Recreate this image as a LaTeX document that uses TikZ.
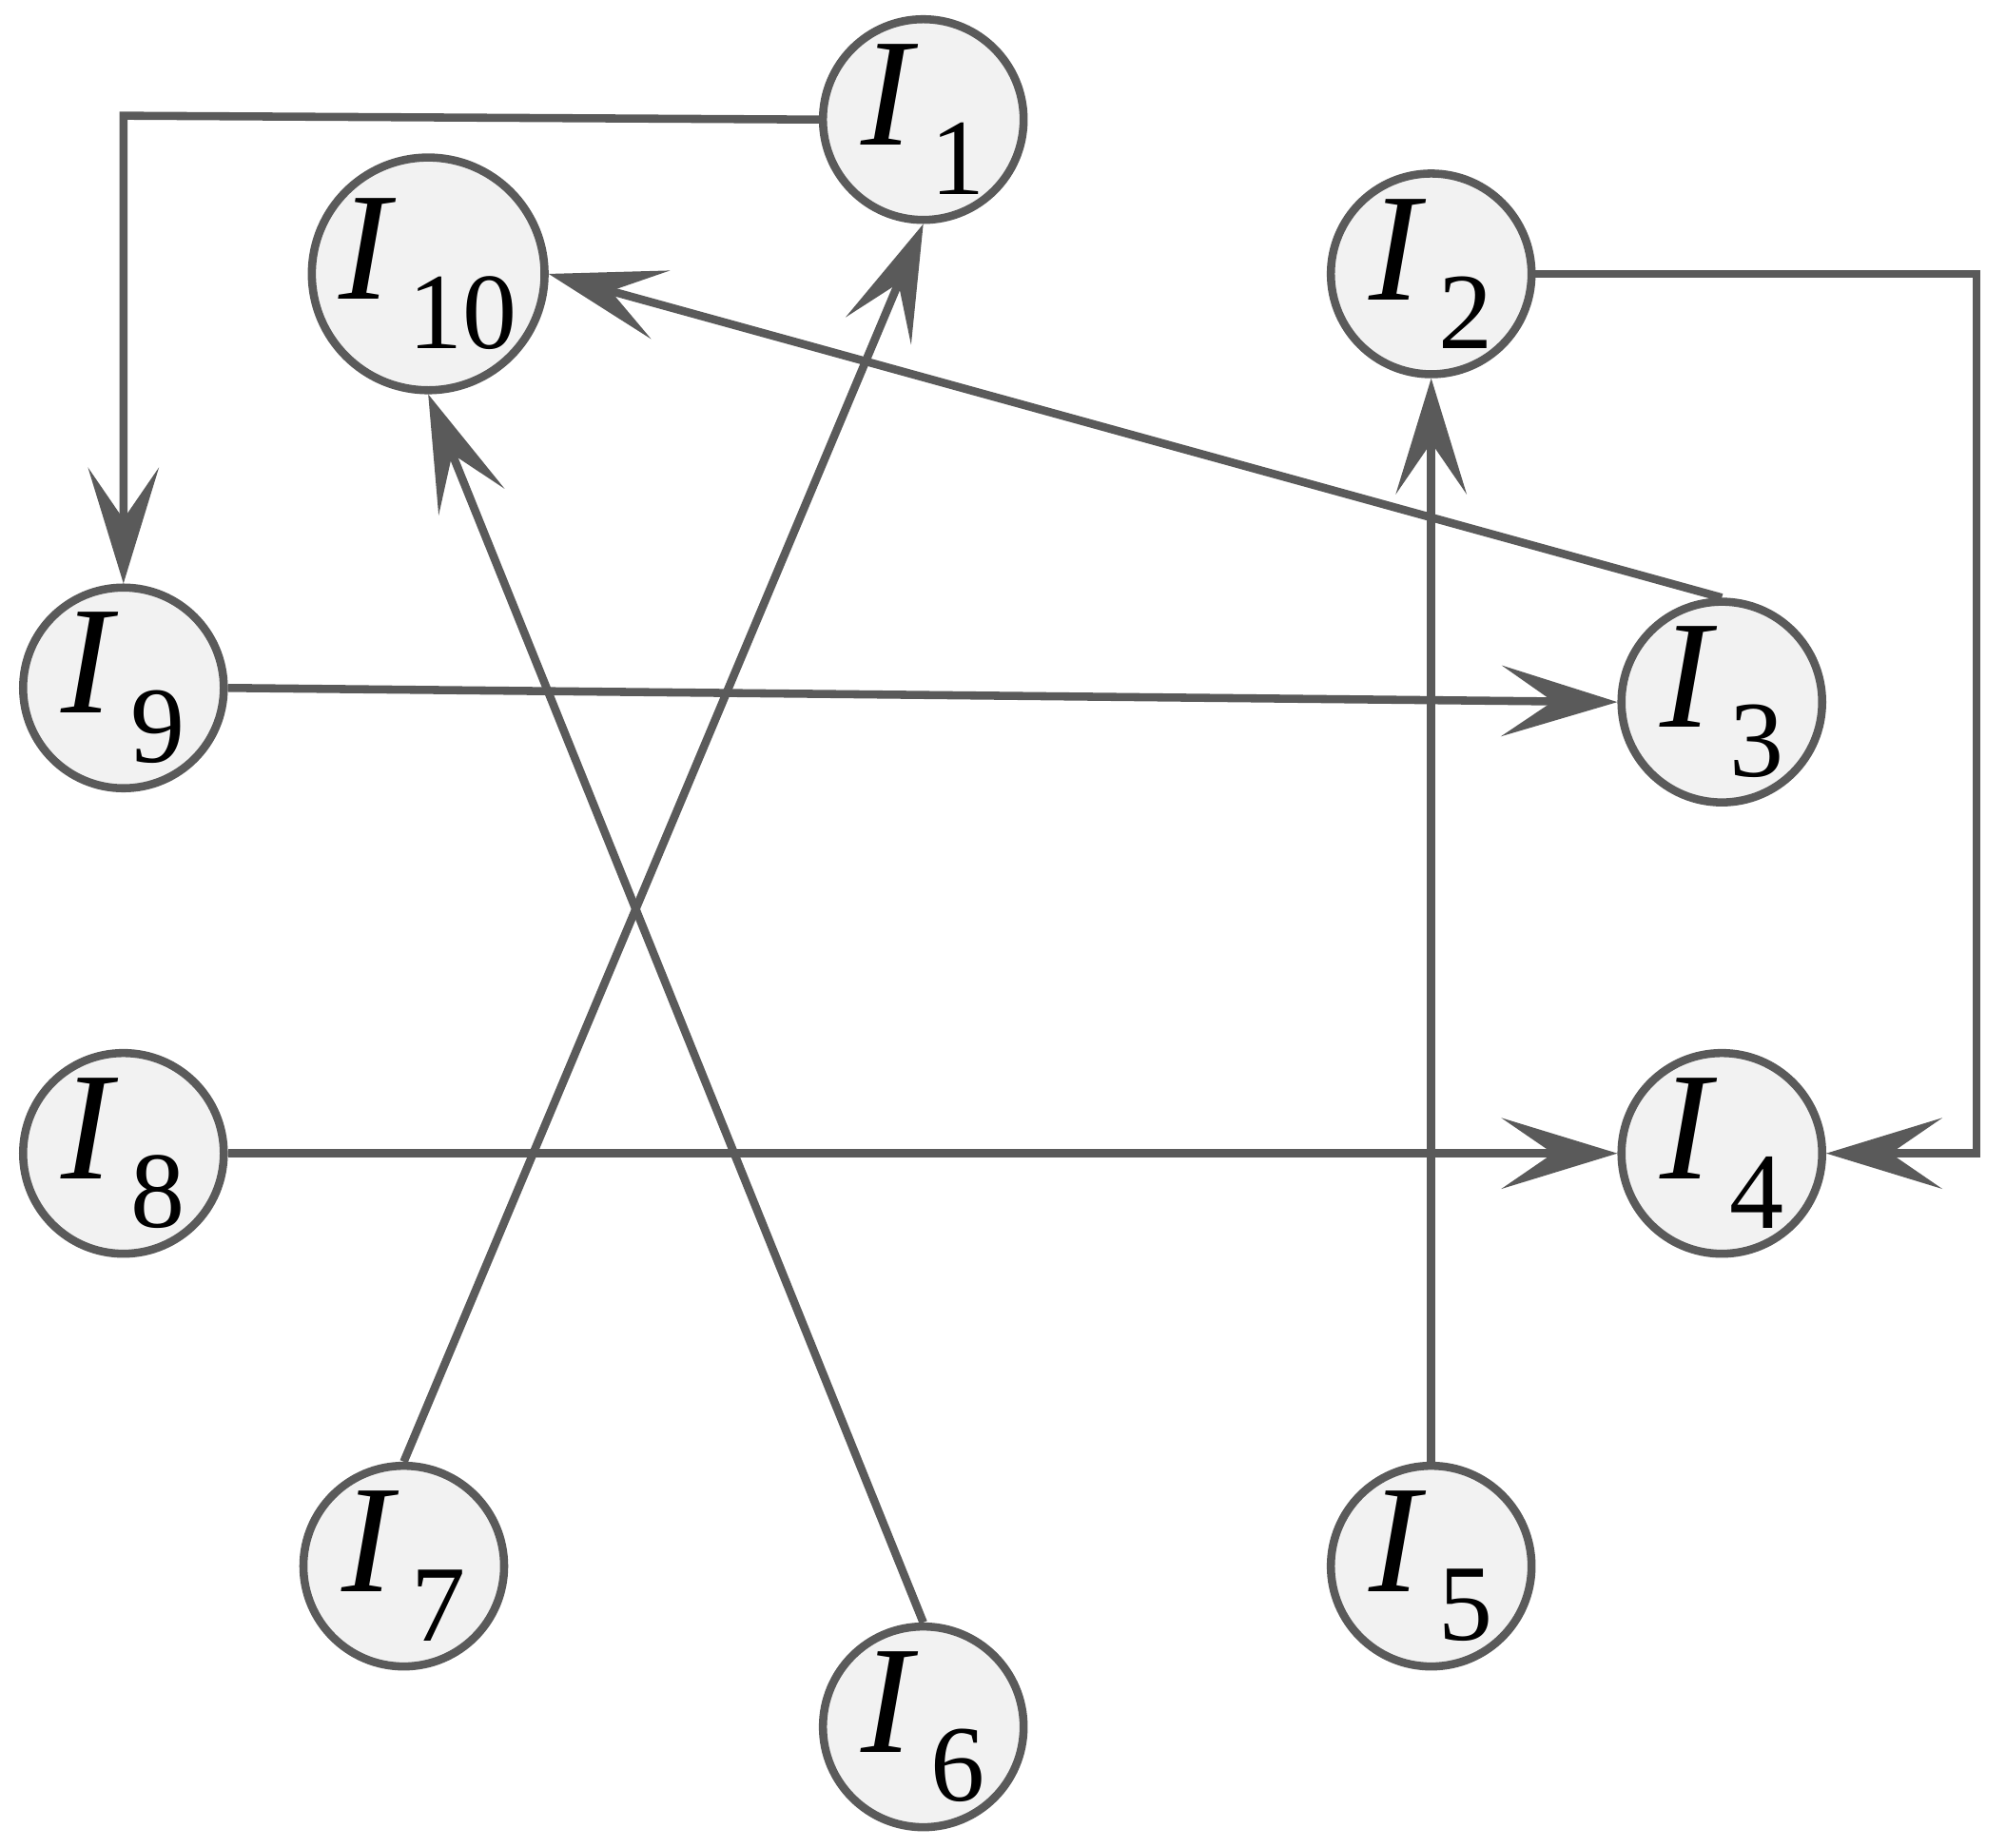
\documentclass[tikz,border=0pt]{standalone}
\usepackage{fontspec}
\setmainfont{Liberation Serif}
\usetikzlibrary{arrows.meta,positioning}
\definecolor{edgegray}{HTML}{5A5A5A}
\definecolor{nodefill}{HTML}{F2F2F2}
\newcommand{\lbl}[1]{{\itshape I}\kern0.12em\raisebox{-0.32em}{\fontsize{24}{24}\selectfont #1}}
\begin{document}
\begin{tikzpicture}[
            x=0.01cm,y=-0.01cm,
            every node/.style={circle,draw=edgegray,fill=nodefill,line width=1.8pt,
                minimum size=1.56cm,inner sep=0pt,font=\fontsize{34}{40}\selectfont},
            link/.style={draw=edgegray,line width=1.8pt},
            arr/.style={link,-{Stealth[length=0.9cm,width=0.55cm,inset=0.4cm]}}
        ]
            \useasboundingbox (0,0) rectangle (1560,1437);
            \node (i1) at (718,93) {\lbl{1}};
            \node (i10) at (333,213) {\lbl{10}};
            \node (i2) at (1113,213) {\lbl{2}};
            \node (i9) at (96,535) {\lbl{9}};
            \node (i3) at (1339,546) {\lbl{3}};
            \node (i8) at (96,897) {\lbl{8}};
            \node (i4) at (1339,897) {\lbl{4}};
            \node (i7) at (314,1218) {\lbl{7}};
            \node (i6) at (718,1343) {\lbl{6}};
            \node (i5) at (1113,1218) {\lbl{5}};
            \coordinate (c1) at (96,90);
            \coordinate (c2) at (1537,213);
            \coordinate (c3) at (1537,897);
            % connectors
            \draw[arr] (i1.west) -- (c1) -- (i9.north);
            \draw[arr] (i2.east) -- (c2) -- (c3) -- (i4.east);
            \draw[arr] (i3.north) -- (i10.east);
            \draw[arr] (i9.east) -- (i3.west);
            \draw[arr] (i8.east) -- (i4.west);
            \draw[arr] (i7.north) -- (i1.south);
            \draw[arr] (i6.north) -- (i10.south);
            \draw[arr] (i5.north) -- (i2.south);
\end{tikzpicture}
\end{document}
